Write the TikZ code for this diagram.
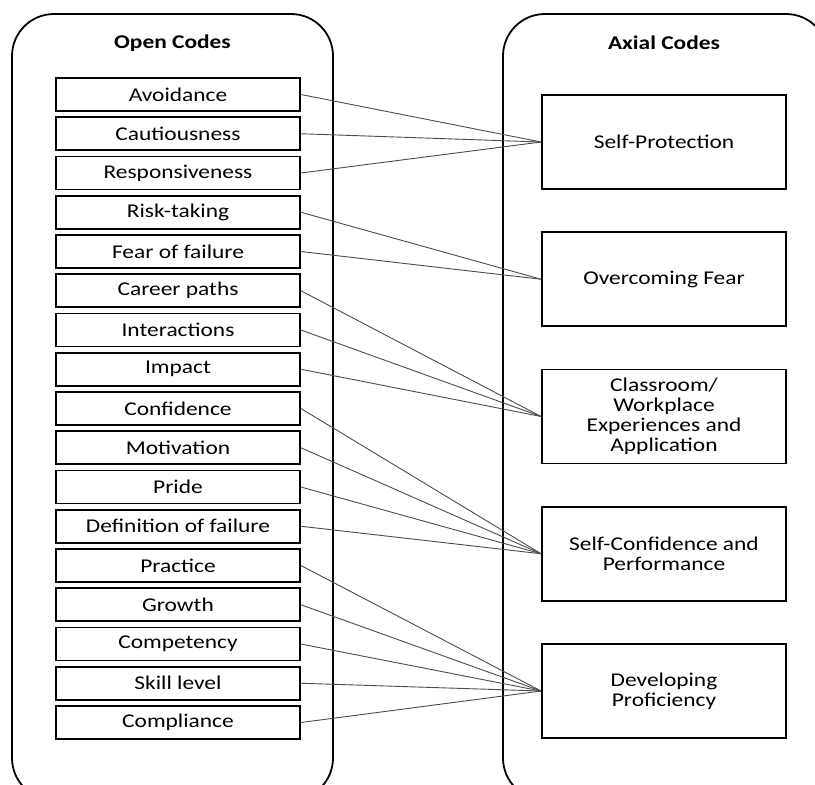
\documentclass[tikz,border=0pt]{standalone}
\usepackage{fontspec}
\setmainfont{Carlito}[FakeStretch=1.2]
\begin{document}
\begin{tikzpicture}[x=1pt,y=-1pt,
  container/.style={draw=black,line width=1.8pt,rounded corners=42pt},
  openbox/.style={draw=black,line width=1.8pt,minimum width=244pt,minimum height=33pt,inner sep=0pt,font=\fontsize{19.5}{20}\selectfont},
  axbox/.style={draw=black,line width=1.8pt,minimum width=244pt,minimum height=94pt,inner sep=0pt,align=center,font=\fontsize{19.5}{20}\selectfont},
  title/.style={font=\fontsize{19.5}{20}\selectfont\bfseries,inner sep=0pt},
  link/.style={draw=black!70,line width=0.9pt}]
\useasboundingbox (0,0) rectangle (815,785);
\begin{scope}
\clip (0,0) rectangle (815,785);
\draw[container] (12,14) rectangle (333,800);
\draw[container] (503,14) rectangle (828,800);
\end{scope}
\node[title] (t1) at (172.5,43) {Open Codes};
\node[title] (t2) at (664,43) {Axial Codes};
\foreach \n/\t [count=\i from 0] in {o1/Avoidance,o2/Cautiousness,o3/Responsiveness,o4/Risk-taking,o5/Fear of failure,o6/Career paths,o7/Interactions,o8/Impact,o9/Confidence,o10/Motivation,o11/Pride,o12/Definition of failure,o13/Practice,o14/Growth,o15/Competency,o16/Skill level,o17/Compliance}
  \node[openbox] (\n) at (178,{94.5+39.25*\i}) {\t};
\node[axbox] (a1) at (664,142) {Self-Protection};
\node[axbox] (a2) at (664,279.25) {Overcoming Fear};
\node[axbox] (a3) at (664,416.5) {Classroom/\\Workplace\\Experiences and\\Application};
\node[axbox] (a4) at (664,553.75) {Self-Confidence and\\Performance};
\node[axbox] (a5) at (664,691) {Developing\\Proficiency};
\foreach \o/\a in {o1/a1,o2/a1,o3/a1,o4/a2,o5/a2,o6/a3,o7/a3,o8/a3,o9/a4,o10/a4,o11/a4,o12/a4,o13/a5,o14/a5,o15/a5,o16/a5,o17/a5}
  \draw[link] (\o.east) -- (\a.west);
\end{tikzpicture}
\end{document}
